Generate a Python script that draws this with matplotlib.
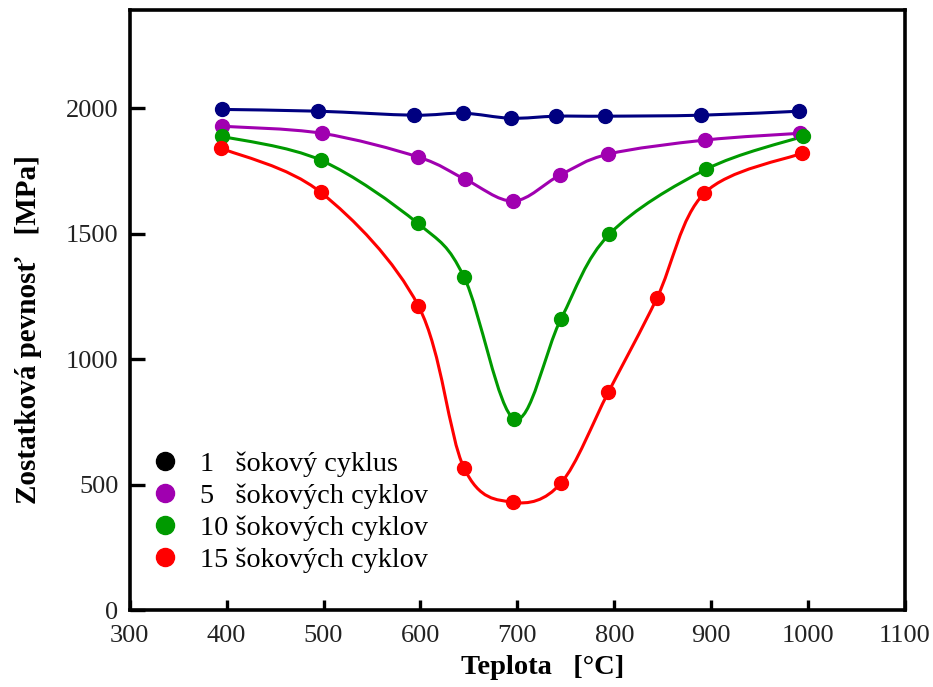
import numpy as np
import matplotlib
matplotlib.use("Agg")
from matplotlib import pyplot as plt
from matplotlib.path import Path
from matplotlib.patches import PathPatch
from matplotlib.lines import Line2D

# Data (temperature in degC, strength in MPa)
t_1 = [395, 494, 593, 644, 693, 740, 790, 890, 991]
s_1 = [1995, 1988, 1972, 1980, 1960, 1968, 1968, 1972, 1988]

t_5 = [395, 498, 598, 646, 696, 744, 794, 894, 992]
s_5 = [1928, 1900, 1805, 1717, 1630, 1733, 1817, 1873, 1900]

t_10 = [395, 497, 597, 645, 697, 745, 795, 895, 995]
s_10 = [1888, 1793, 1542, 1327, 761, 1160, 1498, 1757, 1888]

t_15 = [394, 497, 598, 645, 695, 745, 794, 844, 893, 994]
s_15 = [1841, 1665, 1211, 566, 430, 506, 869, 1243, 1661, 1821]

labels = ["1   šokový cyklus", "5   šokových cyklov",
          "10 šokových cyklov", "15 šokových cyklov"]
line_colors = ["#000080", "#a000b0", "#009a00", "#ff0000"]
legend_colors = ["#000000", "#a000b0", "#009a00", "#ff0000"]

x_ticks = [300, 400, 500, 600, 700, 800, 900, 1000, 1100]
y_ticks = [0, 500, 1000, 1500, 2000]

plt.rcParams["font.family"] = ["Liberation Serif", "DejaVu Serif"]


def smooth_path(xs, ys):
    # Catmull-Rom curve through the data points, drawn as cubic Bezier segments
    pts = np.column_stack([xs, ys]).astype(float)
    verts = [pts[0]]
    codes = [Path.MOVETO]
    n = len(pts)
    for i in range(n - 1):
        p0 = pts[i - 1] if i > 0 else pts[i]
        p1 = pts[i]
        p2 = pts[i + 1]
        p3 = pts[i + 2] if i + 2 < n else pts[i + 1]
        c1 = p1 + (p2 - p0) / 6.0
        c2 = p2 - (p3 - p1) / 6.0
        verts += [c1, c2, p2]
        codes += [Path.CURVE4] * 3
    return Path(verts, codes)


fig = plt.figure(figsize=(9.33, 6.87), dpi=100)
ax = fig.add_axes([0.139, 0.112, 0.831, 0.873])

series = [(t_1, s_1), (t_5, s_5), (t_10, s_10), (t_15, s_15)]
for (xs, ys), c in zip(series, line_colors):
    ax.add_patch(PathPatch(smooth_path(xs, ys), fill=False, edgecolor=c,
                           lw=2.2, zorder=2))
    ax.plot(xs, ys, "o", color=c, ms=10, zorder=3)

ax.set_xlim(300, 1100)
ax.set_ylim(0, 2390)
ax.set_xticks(x_ticks)
ax.set_yticks(y_ticks)

for sp in ax.spines.values():
    sp.set_linewidth(2.6)
ax.tick_params(axis="both", direction="in", width=2.4, labelsize=19,
               labelcolor="#222222", pad=8)
ax.tick_params(axis="y", length=11)
ax.tick_params(axis="x", length=7, pad=11)

ax.set_xlabel("Teplota   [°C]", fontsize=20.5, fontweight="bold")
ax.set_ylabel("Zostatková pevnosť   [MPa]", fontsize=21, fontweight="bold")
ax.xaxis.set_label_coords(0.532, -0.075)
ax.yaxis.set_label_coords(-0.113, 0.468)

handles = [Line2D([], [], ls="none", marker="o", ms=13, color=c)
           for c in legend_colors]
ax.legend(handles, labels, loc="upper left", bbox_to_anchor=(0.027, 0.265),
          frameon=False, fontsize=20.3, handlelength=1.0, handletextpad=0.74,
          labelspacing=0.22, borderpad=0, borderaxespad=0)

fig.savefig("out.png", dpi=100)
